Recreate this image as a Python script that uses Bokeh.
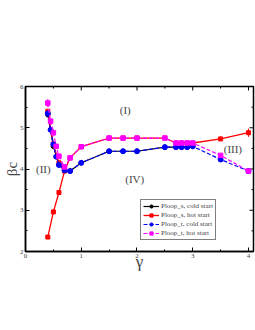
import math
from bokeh.plotting import figure
from bokeh.models import Range1d, Label, Legend, FixedTicker
from bokeh.embed import file_html
from bokeh.resources import INLINE

# ---- data ----
x_cold_s = [0.4, 0.5, 0.6, 0.7, 0.8, 1.0, 1.5, 1.75, 2.0, 2.5, 2.7, 2.8, 2.9, 3.0]
y_cold_s = [5.32, 4.55, 4.1, 3.97, 3.95, 4.15, 4.43, 4.43, 4.43, 4.53, 4.53, 4.53, 4.53, 4.55]

x_hot_s = [0.4, 0.5, 0.6, 0.7, 0.8, 1.0, 1.5, 1.75, 2.0, 2.5, 2.7, 2.8, 2.9, 3.0, 3.5, 4.0]
y_hot_s = [2.35, 2.96, 3.43, 3.95, 4.27, 4.54, 4.75, 4.75, 4.75, 4.75, 4.63, 4.63, 4.63, 4.63, 4.73, 4.88]
x_hot_s2 = [0.4, 0.5, 0.6, 0.7]
y_hot_s2 = [5.4, 4.6, 4.15, 3.98]
err_hot_s = [0.02, 0.02, 0.02, 0.02, 0.02, 0.02, 0.02, 0.02, 0.02, 0.02, 0.02, 0.02, 0.02, 0.02, 0.05, 0.1]

x_cold_t = [0.4, 0.45, 0.5, 0.55, 0.6, 0.7, 0.8, 1.0, 1.5, 1.75, 2.0, 2.5, 2.7, 2.8, 2.9, 3.0, 3.5, 4.0]
y_cold_t = [5.35, 4.95, 4.6, 4.3, 4.1, 3.97, 3.95, 4.15, 4.43, 4.43, 4.43, 4.53, 4.53, 4.53, 4.53, 4.55, 4.23, 3.95]

x_hot_t = [0.4, 0.45, 0.5, 0.55, 0.6, 0.7, 0.8, 1.0, 1.5, 1.75, 2.0, 2.5, 2.7, 2.8, 2.9, 3.0, 3.5, 4.0]
y_hot_t = [5.6, 5.16, 4.88, 4.55, 4.31, 4.05, 4.27, 4.54, 4.75, 4.75, 4.75, 4.75, 4.63, 4.63, 4.63, 4.63, 4.33, 3.95]
err_hot_t = [0.1, 0.05, 0.03, 0.03, 0.03, 0.02, 0.02, 0.02, 0.02, 0.02, 0.02, 0.02, 0.02, 0.02, 0.02, 0.02, 0.03, 0.03]

x_ticks = [0, 1, 2, 3, 4]
y_ticks = [2, 3, 4, 5, 6]
x_minor = [0.5, 1.5, 2.5, 3.5]
y_minor = [2.5, 3.5, 4.5, 5.5]
X_MIN, X_MAX = 0, 4.09
Y_MIN, Y_MAX = 2, 6
region_labels = ["(I)", "(II)", "(III)", "(IV)"]
region_x = [1.79, 0.32, 3.72, 1.96]
region_y = [5.44, 3.99, 4.48, 3.75]

FONT = "Liberation Serif"

p = figure(frame_width=228, frame_height=165, output_backend="svg", toolbar_location=None,
           x_range=Range1d(X_MIN, X_MAX), y_range=Range1d(Y_MIN, Y_MAX),
           min_border_left=17, min_border_right=2, min_border_top=86, min_border_bottom=36)
p.grid.visible = False
p.outline_line_color = "black"
p.outline_line_width = 1.5
p.background_fill_color = "white"


def style_axis(ax, ticks, minor):
    ax.ticker = FixedTicker(ticks=ticks, minor_ticks=minor)
    ax.major_tick_in = 4
    ax.major_tick_out = 0
    ax.minor_tick_in = 2
    ax.minor_tick_out = 0
    ax.axis_line_width = 1.5
    ax.major_tick_line_width = 1
    ax.minor_tick_line_width = 1
    ax.major_label_text_font = FONT
    ax.major_label_text_font_size = "7px"
    ax.major_label_standoff = 2


style_axis(p.xaxis[0], x_ticks, x_minor)
style_axis(p.yaxis[0], y_ticks, y_minor)
p.xaxis.axis_label = "γ"
p.xaxis.axis_label_text_font = FONT
p.xaxis.axis_label_text_font_size = "17px"
p.xaxis.axis_label_text_font_style = "normal"
p.xaxis.axis_label_standoff = -9
p.yaxis.axis_label = "βc"
p.yaxis.axis_label_text_font = FONT
p.yaxis.axis_label_text_font_size = "15px"
p.yaxis.axis_label_text_font_style = "normal"
p.yaxis.axis_label_standoff = -3

# mirrored ticks on top and right edges (half of each dash is clipped by the frame)
p.scatter(x_ticks, [Y_MAX] * len(x_ticks), marker="dash", size=8, angle=math.pi / 2,
          line_color="black", line_width=1)
p.scatter(x_minor, [Y_MAX] * len(x_minor), marker="dash", size=4, angle=math.pi / 2,
          line_color="black", line_width=1)
p.scatter([X_MAX] * len(y_ticks), y_ticks, marker="dash", size=8,
          line_color="black", line_width=1)
p.scatter([X_MAX] * len(y_minor), y_minor, marker="dash", size=4,
          line_color="black", line_width=1)

# error bars
p.segment(x0=x_hot_s, x1=x_hot_s,
          y0=[y - e for y, e in zip(y_hot_s, err_hot_s)], y1=[y + e for y, e in zip(y_hot_s, err_hot_s)],
          line_color="red", line_width=1)
p.segment(x0=x_hot_t, x1=x_hot_t,
          y0=[y - e for y, e in zip(y_hot_t, err_hot_t)], y1=[y + e for y, e in zip(y_hot_t, err_hot_t)],
          line_color="magenta", line_width=1)

r_cs_l = p.line(x_cold_s, y_cold_s, line_color="black", line_width=1.2)
r_cs_m = p.scatter(x_cold_s, y_cold_s, marker="circle", size=4.5, color="black")

r_hs_l = p.line(x_hot_s, y_hot_s, line_color="red", line_width=1.3)
p.line(x_hot_s2, y_hot_s2, line_color="red", line_width=1.3)
r_hs_m = p.scatter(x_hot_s, y_hot_s, marker="square", size=4, color="red")
p.scatter(x_hot_s2, y_hot_s2, marker="square", size=4, color="red")

r_ct_l = p.line(x_cold_t, y_cold_t, line_color="blue", line_width=1.2, line_dash="4 2")
r_ct_m = p.scatter(x_cold_t, y_cold_t, marker="circle", size=5, line_color="blue",
                   fill_color="blue", line_width=1)

r_ht_l = p.line(x_hot_t, y_hot_t, line_color="magenta", line_width=1.2, line_dash="4 2")
r_ht_m = p.scatter(x_hot_t, y_hot_t, marker="square", size=4.5, line_color="magenta",
                   fill_color="magenta", line_width=1)

for t, xx, yy in zip(region_labels, region_x, region_y):
    p.add_layout(Label(x=xx, y=yy, text=t, text_font=FONT, text_font_size="11px",
                       text_align="center", text_baseline="middle"))

legend = Legend(items=[
    ("Ploop_s, cold start", [r_cs_l, r_cs_m]),
    ("Ploop_s, hot start", [r_hs_l, r_hs_m]),
    ("Ploop_t, cold start", [r_ct_l, r_ct_m]),
    ("Ploop_t, hot start", [r_ht_l, r_ht_m]),
], location=(115, 11))
legend.label_text_font = FONT
legend.label_text_font_size = "7px"
legend.label_height = 8
legend.glyph_height = 8
legend.glyph_width = 16
legend.label_standoff = 2
legend.spacing = 1
legend.padding = 2
legend.margin = 0
legend.border_line_color = "black"
legend.border_line_width = 1
p.add_layout(legend, "center")

open("out.html", "w").write(file_html(p, INLINE))
